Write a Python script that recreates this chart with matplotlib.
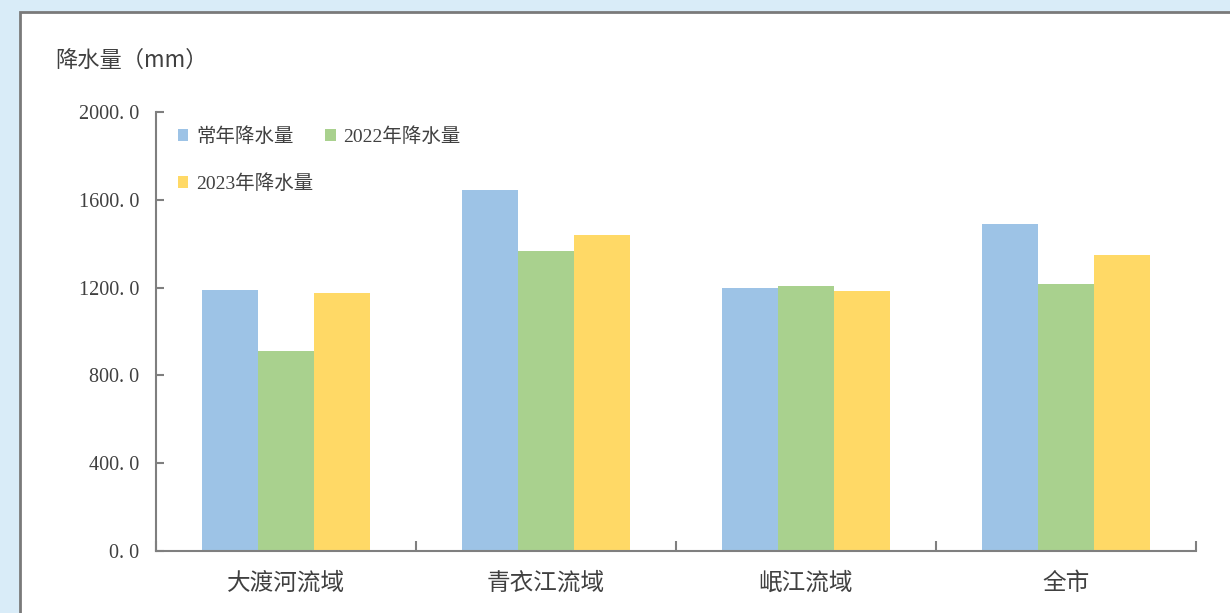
import numpy as np
import matplotlib
matplotlib.use("Agg")
from matplotlib import pyplot as plt
from matplotlib.patches import Rectangle

# Data
regions = ["大渡河流域", "青衣江流域", "岷江流域", "全市"]
normal = [1190, 1645, 1197, 1489]
y2022 = [911, 1369, 1206, 1217]
y2023 = [1174, 1440, 1186, 1349]
series_names = ["常年降水量", "2022年降水量", "2023年降水量"]
yticks = [0, 400, 800, 1200, 1600, 2000]

colors = ["#9dc3e6", "#a9d18e", "#ffd966"]
cjk = ["Noto Sans CJK SC", "DejaVu Sans"]
serif = ["Liberation Serif", "Noto Sans CJK SC"]

fig = plt.figure(figsize=(12.3, 6.13), dpi=100)
fig.patch.set_facecolor("#d9ecf8")

# White panel with grey border (behind everything)
panel = Rectangle((20 / 1230, -0.1), 1.2, 1 - 12 / 613 + 0.1, transform=fig.transFigure,
                  facecolor="white", edgecolor="#7a7a7a", linewidth=2, zorder=-10)
fig.patches.append(panel)

ax = fig.add_axes([156 / 1230, 1 - 551 / 613, (1196 - 156) / 1230, (551 - 112) / 613])
ax.set_facecolor("none")

x = np.arange(len(regions))
w = 0.215
bars = []
for i, vals in enumerate([normal, y2022, y2023]):
    b = ax.bar(x + (i - 1) * w, vals, width=w, color=colors[i], label=series_names[i], zorder=2)
    bars.append(b)

ax.set_xlim(-0.5, len(regions) - 0.5)
ax.set_ylim(0, 2000)

ax.set_yticks(yticks)
ax.set_yticklabels([f"{v:.1f}".replace(".", ". ") for v in yticks], fontfamily=serif,
                   fontsize=14.5, color="#404040")
ax.tick_params(axis="y", direction="in", length=6, width=1.5, color="#7f7f7f", pad=12)

ax.set_xticks(x)
ax.set_xticklabels(regions, fontfamily=cjk, fontsize=17, color="#404040")
ax.set_xticks(np.arange(-0.5, len(regions)), minor=True)
ax.tick_params(axis="x", which="major", length=0, pad=15)
ax.tick_params(axis="x", which="minor", direction="in", length=7, width=1.5, color="#7f7f7f")

for side in ["top", "right"]:
    ax.spines[side].set_visible(False)
for side in ["left", "bottom"]:
    ax.spines[side].set_color("#7f7f7f")
    ax.spines[side].set_linewidth(1.5)

# Legend: order so that row 1 = 常年, 2022; row 2 = 2023
handles = [bars[0], bars[2], bars[1]]
labels = [series_names[0], series_names[2], series_names[1]]
leg = ax.legend(handles, labels, ncol=2, loc="upper left", bbox_to_anchor=(0.004, 1.005),
                frameon=False, handlelength=0.55, handleheight=0.55, handletextpad=0.4,
                columnspacing=0.6, labelspacing=1.45,
                prop={"family": serif, "size": 14})
for t in leg.get_texts():
    t.set_color("#404040")

fig.text(55 / 1230, 1 - 60 / 613, "降水量（mm）", fontfamily=cjk, fontsize=16,
         color="#404040", va="center", ha="left")

fig.savefig("out.png", dpi=100, facecolor=fig.get_facecolor())
